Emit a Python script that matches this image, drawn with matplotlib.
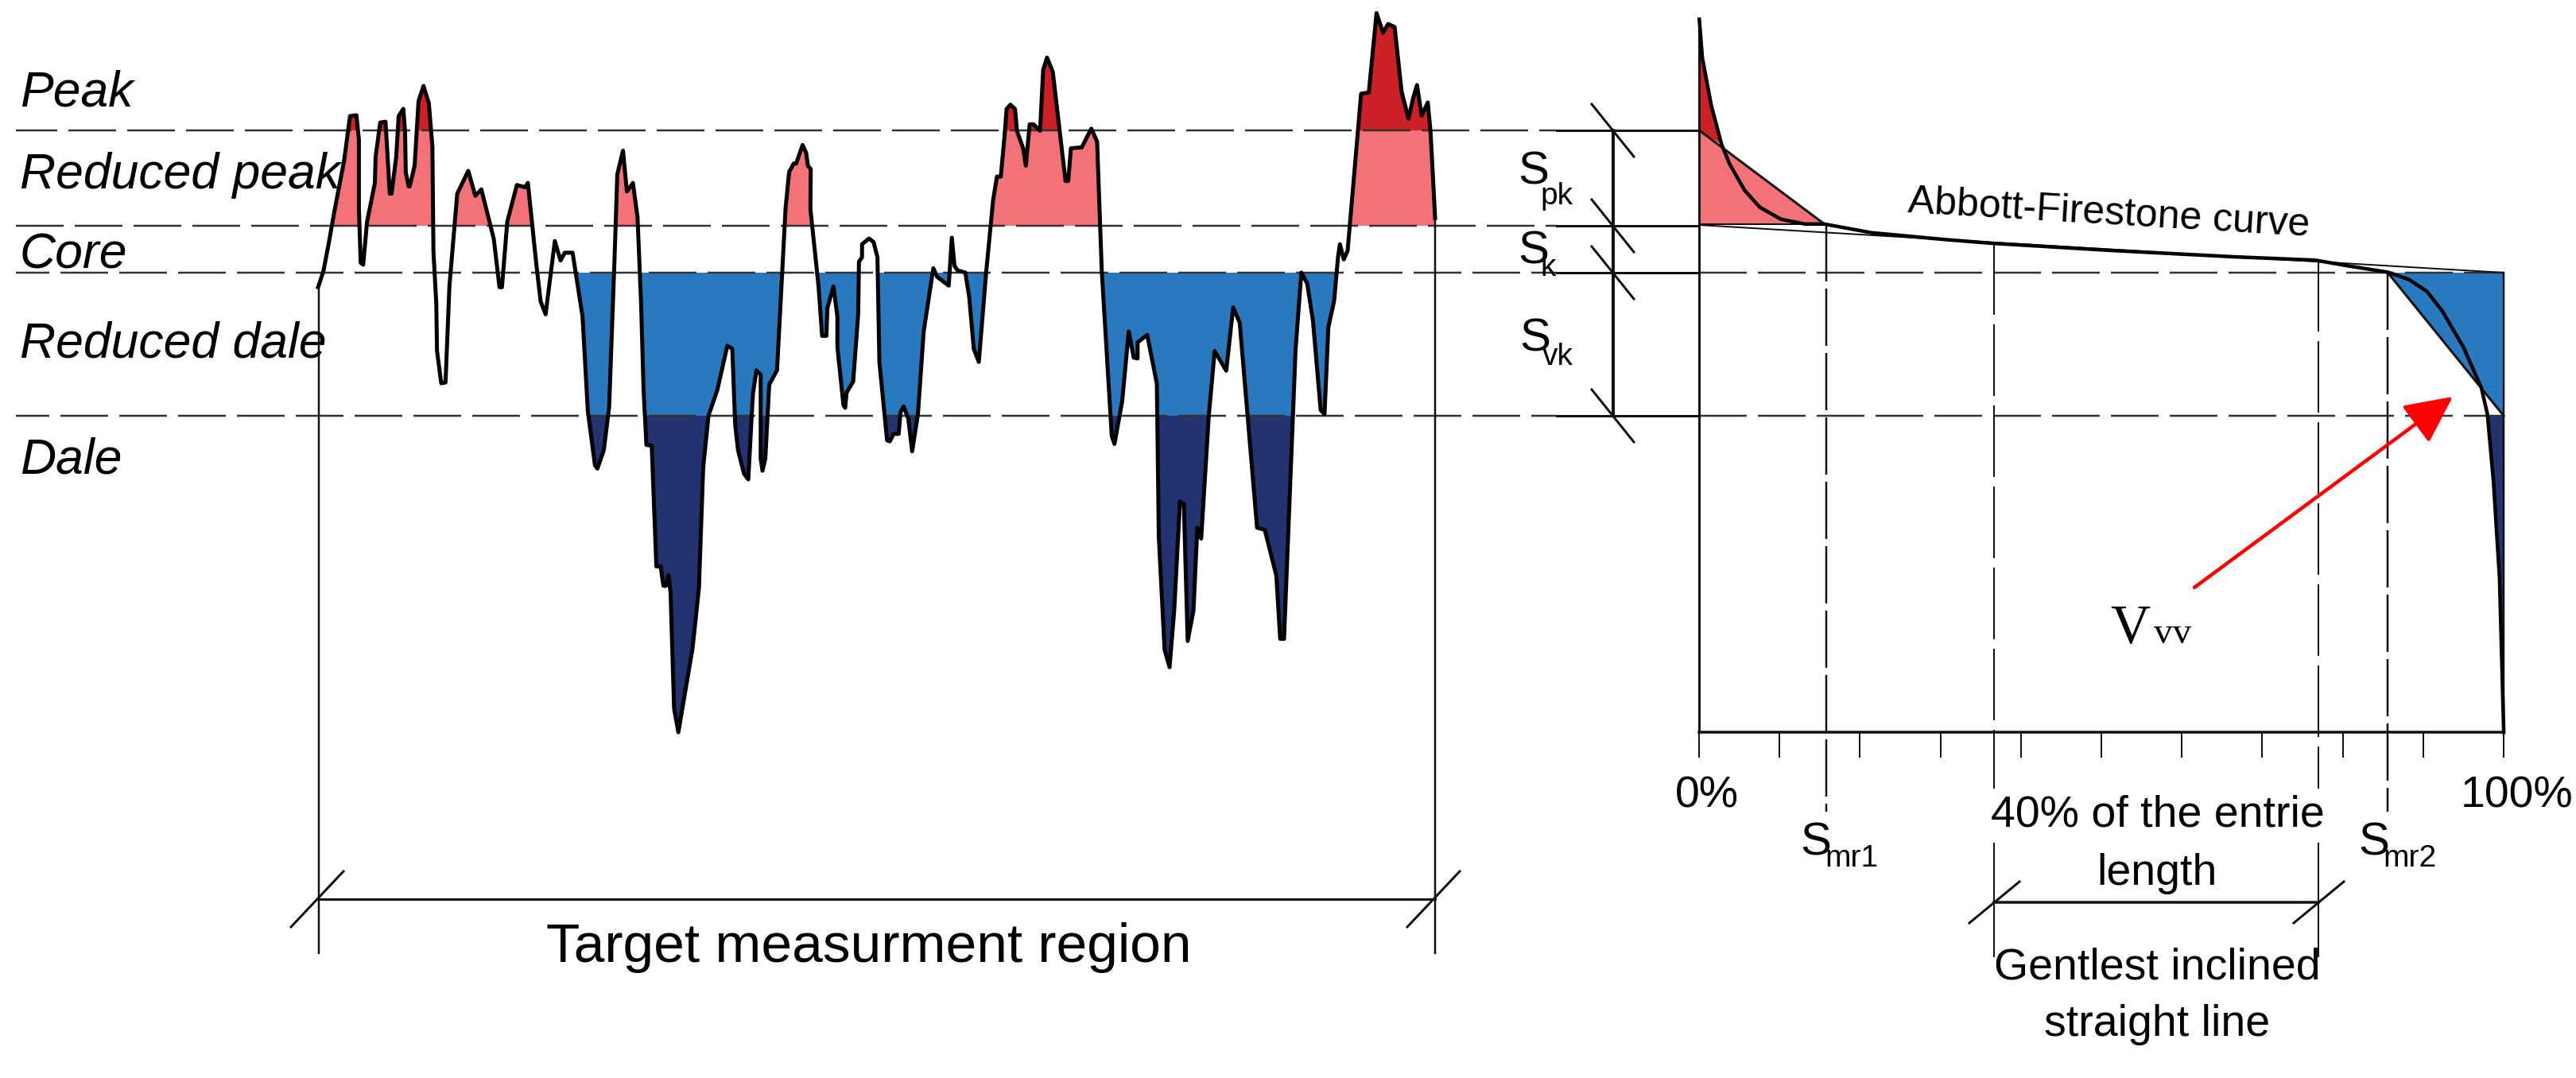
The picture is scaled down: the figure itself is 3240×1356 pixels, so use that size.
import numpy as np
import matplotlib
matplotlib.use("Agg")
from matplotlib import pyplot as plt
from matplotlib.patches import Rectangle

plt.rcParams["lines.scale_dashes"] = False
sans = ["Liberation Sans Narrow", "Liberation Sans"]

part1_x = [45,60,75,90,118,135,153,160,160,165,172,183,205,207,220,235,247,252,265,272,285,290,292,300,303,317,328,342,357,367,370,378,380,392,404,415,437,468,488,505,540,556,563,578,605,628,636,660,672,686,712,728,740,762,790,805,825,832,850,865,880,888,904,915,932,945,955,962,970,985,998,1010,1018,1025,1032,1038,1048,1060,1100,1118,1130,1145,1170,1198,1212,1220,1228,1245,1257,1270,1280,1292,1292,1297,1305,1316,1338,1362,1372,1385,1392,1410,1420,1425,1433,1432,1455,1465,1477,1480,1497,1508,1508,1525,1530]
part1_y = [482,445,380,310,190,85,83,140,300,425,430,330,240,180,100,98,265,265,180,85,68,120,215,248,248,200,50,15,55,155,400,520,630,705,703,480,265,212,270,255,370,482,482,330,245,250,240,430,515,545,375,420,402,402,550,770,895,903,860,760,420,220,165,260,240,320,520,720,848,850,1130,1130,1175,1175,1150,1190,1460,1515,1320,1180,900,780,720,618,625,800,860,915,928,730,675,685,880,908,880,708,675,300,215,195,195,152,170,200,208,300,480,595,595,530,480,550,620,755,762]

part2_x = [10,27,40,42,50,50,68,80,90,95,115,122,132,145,150,158,170,180,195,210,235,245,275,283,290,298,318,328,340,353,372,390,400,410,420,425,435,447,452,468,475,485,495,512,520,530,545,578,585,592,620,645,660,672,698,705,725,742,755,765,765,790,815,820,835,848,860,875,885,895,910,920,930,950,965,995,1013,1030,1075,1095,1125,1135,1145,1175,1190,1205,1220,1240,1250,1260,1275,1285,1290,1300,1310,1345,1365,1385,1402,1415,1432,1450,1468,1480,1490,1502,1518,1525,1537]
part2_y = [900,875,720,600,590,560,547,555,590,830,1010,1012,995,995,945,932,960,1035,950,760,615,635,655,545,610,620,625,680,800,830,625,460,405,405,310,250,240,250,300,340,380,285,285,300,160,132,165,415,415,340,338,295,325,620,1000,1018,920,760,820,822,785,768,880,1230,1490,1530,1400,1150,1155,1470,1400,1210,1235,950,805,850,705,740,1210,1215,1320,1465,1465,800,625,650,735,940,950,750,690,590,560,595,575,215,212,30,75,55,62,210,272,225,195,265,235,300,500]

# bearing curve and its triangles, crop at (2050,0) scale 1.3165 / 1.65
curve_x = [115,120,135,152,165,190,215,250,290,322,400,520,600,800,1000,1135,1190,1255,1290,1320,1345,1380,1410,1420,1430,1440,1447]
curve_y = [40,120,220,300,340,395,430,455,465,465,483,497,505,520,533,540,552,565,580,605,645,720,805,860,1000,1200,1520]

levels = [164, 284, 343, 523]
level_offset = [8, 0, 18, 18]
tick_pct = [0, 10, 20, 30, 40, 50, 60, 70, 80, 90, 100]

pink = "#F37277"
red = "#CC2027"
blue = "#2A78BE"
navy = "#233370"
ink = "#111111"

px = 0.72  # points per reference pixel at dpi 100

x = np.r_[380 + np.array(part1_x) / 2.24, 1060 + np.array(part2_x) / 2.063]
y = np.r_[100 + np.array(part1_y) / 1.845, np.array(part2_y) / 1.823]
cx = 2050 + np.array(curve_x) / 1.3165
cy = np.array(curve_y) / 1.65

fig = plt.figure(figsize=(32.41, 13.56), dpi=100)
ax = fig.add_axes([0, 0, 1, 1])
ax.set_xlim(0, 3241)
ax.set_ylim(1356, 0)
ax.axis("off")


def band(base, top, bottom, color, where):
    p = ax.fill_between(x, y, base, where=where, interpolate=True, color=color, lw=0, zorder=1)
    p.set_clip_path(Rectangle((0, top), 3241, bottom - top, transform=ax.transData))


band(284, 0, 164, red, y < 284)
band(284, 164, 284, pink, y < 284)
band(343, 343, 523, blue, (y > 343) & (x > 720))
band(343, 523, 1356, navy, (y > 343) & (x > 720))


def seg(xs, ys, lw=2.5, **kw):
    kw.setdefault("color", ink)
    kw.setdefault("zorder", 3)
    ax.plot(xs, ys, lw=lw * px, **kw)


# level lines, dashed on the left, solid past the dimension, dashed again for the lower two
for lev, off in zip(levels, level_offset):
    seg([20, 1958], [lev, lev], color="#333333", linestyle=(off * px, (60 * px, 14 * px)))
    seg([1958, 2137], [lev, lev], lw=3)
for lev in levels[2:]:
    seg([2137, 3149], [lev, lev], color="#333333", linestyle=(0, (60 * px, 14 * px)))

# left dimension
seg([401, 401], [360, 1199])
seg([1805, 1805], [274, 1199])
seg([401, 1805], [1131, 1131], lw=3)
for d in [401, 1805]:
    seg([d - 35, d + 31], [1166, 1096], lw=3)

# S dimension
seg([2029, 2029], [levels[0], levels[3]], lw=4)
for lev in levels:
    seg([2002, 2055], [lev - 33, lev + 33], lw=3)

ax.plot(x, y, color="black", lw=5 * px, zorder=4)

# right chart fills
ax.fill([cx[0], cx[1], cx[2], cx[3], cx[0]], [cy[0], cy[1], cy[2], cy[3], 164], color=red, lw=0, zorder=1)
ax.fill([cx[0], cx[9], cx[0]], [164, cy[9], cy[9]], color=pink, lw=0, zorder=1)
ax.fill([cx[17], 3149, 3149], [343, 343, 523], color=blue, lw=0, zorder=1)
ax.fill([cx[23], 3149, 3149, cx[25], cx[24]], [523, 523, cy[26], cy[25], cy[24]], color=navy, lw=0, zorder=1)

seg([cx[0], cx[0]], [cy[0], 921], lw=3)
seg([cx[0], 3149], [921, 921], lw=3.5)
seg([cx[0], cx[9]], [164, cy[9]], lw=3)
seg([cx[0], cx[9]], [cy[9], cy[9]], lw=2)
seg([cx[0], 3149], [283, 343], lw=2)
seg([cx[17], 3149], [343, 523], lw=3)
seg([3149, 3149], [343, 921], lw=2.5)
ax.plot(cx, cy, color="black", lw=4.5 * px, zorder=4)

for pct in tick_pct:
    seg([2137 + pct * 10.12] * 2, [921, 952], lw=2)

# Smr verticals
seg([2297, 2297], [282, 1021], lw=2.5, linestyle=(0, (72 * px, 9 * px)))
seg([3003, 3003], [343, 1021], lw=2.5, linestyle=(0, (72 * px, 9 * px)))

# 40% verticals, white gap behind the text
for v, top in [(2508, 306), (2916, 327)]:
    seg([v, v], [top, 992], lw=2, linestyle=(0, (90 * px, 12 * px)))
    seg([v, v], [1061, 1203], lw=2)
    seg([v + 32, v - 31], [1109, 1161], lw=3)
seg([2508, 2916], [1135, 1135], lw=3.5)

# red arrow
ax.annotate("", xy=(3085, 499), xytext=(2760, 739), zorder=5,
            arrowprops=dict(arrowstyle="-|>,head_length=%f,head_width=%f" % (51 * px, 25 * px),
                            color="#FF0000", lw=4.5 * px, shrinkA=0, shrinkB=0, mutation_scale=1))

# texts
for txt, base in zip(["Peak", "Reduced peak", "Core", "Reduced dale", "Dale"], [134, 237, 337, 450, 595]):
    ax.text(25, base, txt, family=sans, style="italic", size=45, va="baseline", color="black")

ax.text(1093, 1210, "Target measurment region", family=sans, size=50, ha="center", va="baseline", color="black")
ax.text(2399, 267, "Abbott-Firestone curve", family=sans, size=36, rotation=-3.4, rotation_mode="anchor",
        va="baseline", color="black")


def sub_label(xs, base, sub, xsub, basesub):
    ax.text(xs, base, "S", family=sans, size=42, va="baseline", color="black")
    ax.text(xsub, basesub, sub, family=sans, size=28, va="baseline", color="black")


sub_label(1909, 232, "pk", 1937, 257)
sub_label(1909, 332, "k", 1937, 347)
sub_label(1911, 442, "vk", 1940, 459)
sub_label(2264, 1076, "mr1", 2295, 1090)
sub_label(2966, 1076, "mr2", 2997, 1090)

ax.text(2147, 1016, "0%", family=sans, size=40, ha="center", va="baseline", color="black")
ax.text(3166, 1016, "100%", family=sans, size=40, ha="center", va="baseline", color="black")
ax.text(2714, 1039, "40% of the entrie", family=sans, size=40, ha="center", va="baseline", color="black")
ax.text(2713, 1113, "length", family=sans, size=40, ha="center", va="baseline", color="black")
ax.text(2713, 1231, "Gentlest inclined", family=sans, size=40, ha="center", va="baseline", color="black")
ax.text(2713, 1303, "straight line", family=sans, size=40, ha="center", va="baseline", color="black")

ax.text(2654, 809, "V", family="Liberation Serif", size=50, va="baseline", color="black")
ax.text(2709, 809, "vv", family="Liberation Serif", size=34, va="baseline", color="black")

fig.savefig("out.png", dpi=100)
